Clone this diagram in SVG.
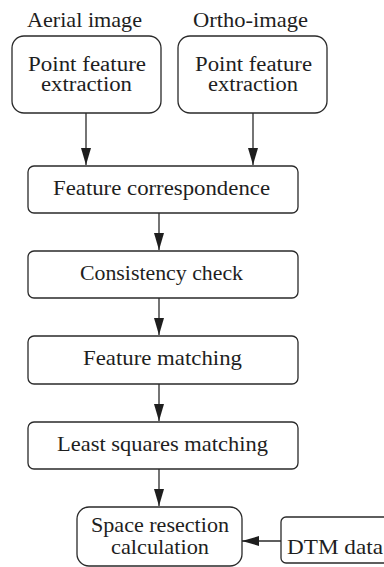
<svg xmlns="http://www.w3.org/2000/svg" width="384" height="567" viewBox="0 0 384 567">
  <style>
    .box { fill: #ffffff; stroke: #2a2a2a; stroke-width: 1.3; }
    .lbl { font-family: "Liberation Serif", "Times New Roman", serif; font-size: 21px; fill: #1e1e1e; text-anchor: middle; }
    .two { font-size: 20px; }
    .edge { stroke: #2a2a2a; stroke-width: 1.3; fill: none; }
  </style>
  <defs>
    <marker id="arrow" viewBox="0 0 17 10" refX="17" refY="5" markerWidth="17" markerHeight="10" markerUnits="userSpaceOnUse" orient="auto">
      <path d="M0,0 L17,5 L0,10 Z" fill="#1e1e1e"/>
    </marker>
  </defs>
  <rect width="384" height="567" fill="#ffffff"/>

  <g id="aerial">
    <text class="lbl" x="84.5" y="27" textLength="115" lengthAdjust="spacingAndGlyphs">Aerial image</text>
    <rect class="box" x="12" y="36" width="149" height="77" rx="12"/>
    <text class="lbl two" x="87" y="70.5" textLength="118" lengthAdjust="spacingAndGlyphs">Point feature</text>
    <text class="lbl two" x="86.5" y="91.2" textLength="91" lengthAdjust="spacingAndGlyphs">extraction</text>
  </g>

  <g id="ortho">
    <text class="lbl" x="250.5" y="27" textLength="115" lengthAdjust="spacingAndGlyphs">Ortho-image</text>
    <rect class="box" x="178" y="36" width="149" height="77" rx="12"/>
    <text class="lbl two" x="253.5" y="70.5" textLength="117" lengthAdjust="spacingAndGlyphs">Point feature</text>
    <text class="lbl two" x="253" y="91.2" textLength="90" lengthAdjust="spacingAndGlyphs">extraction</text>
  </g>

  <g id="correspondence">
    <rect class="box" x="28" y="166" width="270" height="47" rx="6"/>
    <text class="lbl" x="161.5" y="195" textLength="217" lengthAdjust="spacingAndGlyphs">Feature correspondence</text>
  </g>

  <g id="consistency">
    <rect class="box" x="28" y="251" width="270" height="47" rx="6"/>
    <text class="lbl" x="161.5" y="280" textLength="163" lengthAdjust="spacingAndGlyphs">Consistency check</text>
  </g>

  <g id="matching">
    <rect class="box" x="28" y="336" width="270" height="48" rx="6"/>
    <text class="lbl" x="162.5" y="365" textLength="159" lengthAdjust="spacingAndGlyphs">Feature matching</text>
  </g>

  <g id="lsm">
    <rect class="box" x="28" y="422" width="270" height="47" rx="6"/>
    <text class="lbl" x="162.5" y="451" textLength="211" lengthAdjust="spacingAndGlyphs">Least squares matching</text>
  </g>

  <g id="resection">
    <rect class="box" x="77" y="507" width="165" height="59" rx="12"/>
    <text class="lbl" x="160" y="532" textLength="138" lengthAdjust="spacingAndGlyphs">Space resection</text>
    <text class="lbl" x="160" y="554" textLength="98" lengthAdjust="spacingAndGlyphs">calculation</text>
  </g>

  <g id="dtm">
    <rect class="box" x="281" y="517" width="110" height="46" rx="5"/>
    <text class="lbl" x="287" y="554" style="text-anchor:start" textLength="96" lengthAdjust="spacingAndGlyphs">DTM data</text>
  </g>

  <g id="connectors">
    <line class="edge" x1="86" y1="113" x2="86" y2="165" marker-end="url(#arrow)"/>
    <line class="edge" x1="253" y1="113" x2="253" y2="165" marker-end="url(#arrow)"/>
    <line class="edge" x1="159" y1="213" x2="159" y2="250" marker-end="url(#arrow)"/>
    <line class="edge" x1="159" y1="298" x2="159" y2="335" marker-end="url(#arrow)"/>
    <line class="edge" x1="159" y1="384" x2="159" y2="421" marker-end="url(#arrow)"/>
    <line class="edge" x1="159" y1="469" x2="159" y2="506" marker-end="url(#arrow)"/>
    <line class="edge" x1="281" y1="541" x2="242" y2="541" marker-end="url(#arrow)"/>
  </g>
</svg>
